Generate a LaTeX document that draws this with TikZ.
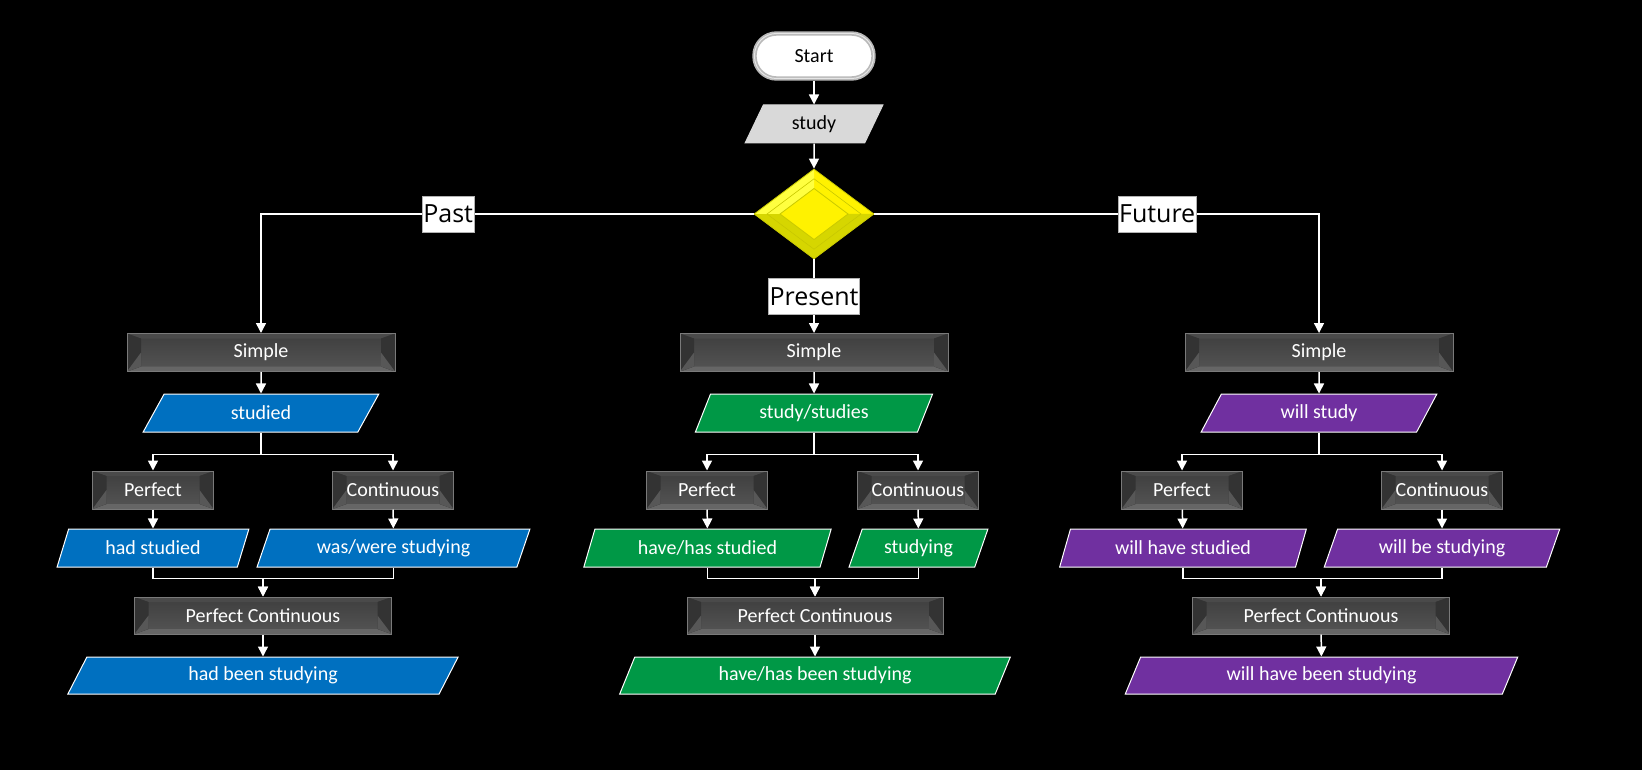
\documentclass[tikz,border=0pt]{standalone}
\usepackage{fontspec}
\setmainfont{Carlito}
\newfontfamily\lblfont{Open Sans}
\usetikzlibrary{shapes.geometric,arrows.meta,calc}

\definecolor{pblue}{HTML}{0070C0}
\definecolor{pgreen}{HTML}{009846}
\definecolor{ppurple}{HTML}{7030A0}
\definecolor{lgray}{HTML}{D9D9D9}
\definecolor{ylow}{HTML}{D6D600}
\definecolor{yedge}{HTML}{C8C800}
\definecolor{yhi}{HTML}{FFFF40}
\definecolor{bvbody}{HTML}{3E3E3E}
\definecolor{bvlow}{HTML}{555555}
\definecolor{bvside}{HTML}{333333}
\definecolor{bvbot}{HTML}{666666}
\definecolor{bvtop}{HTML}{4A4A4A}
\definecolor{bvedge}{HTML}{7A7A7A}

\begin{document}
\begin{tikzpicture}[x=0.5pt,y=-0.5pt,
  every node/.style={font=\fontsize{10}{12}\selectfont},
  arr/.style={draw=white, line width=0.75pt, -{Triangle[width=5pt,length=5pt]}},
  para/.style={trapezium, trapezium left angle=65, trapezium right angle=115,
    trapezium stretches=true, draw=white, line width=0.5pt, inner sep=0pt,
    minimum height=19pt, text=white},
  bev/.style={rectangle, draw=bvedge, line width=0.5pt, inner sep=0pt,
    minimum height=19pt, text=white,
    top color=bvbody, bottom color=bvlow,
    path picture={
      \fill[bvtop] (path picture bounding box.north west)
        -- ([xshift=7pt,yshift=-2.5pt]path picture bounding box.north west)
        -- ([xshift=-7pt,yshift=-2.5pt]path picture bounding box.north east)
        -- (path picture bounding box.north east) -- cycle;
      \fill[bvbot] (path picture bounding box.south west)
        -- ([xshift=7pt,yshift=2.5pt]path picture bounding box.south west)
        -- ([xshift=-7pt,yshift=2.5pt]path picture bounding box.south east)
        -- (path picture bounding box.south east) -- cycle;
      \fill[bvside] (path picture bounding box.north west)
        -- ([xshift=7pt,yshift=-2.5pt]path picture bounding box.north west)
        -- ([xshift=7pt,yshift=2.5pt]path picture bounding box.south west)
        -- (path picture bounding box.south west) -- cycle;
      \fill[bvside] (path picture bounding box.north east)
        -- ([xshift=-7pt,yshift=-2.5pt]path picture bounding box.north east)
        -- ([xshift=-7pt,yshift=2.5pt]path picture bounding box.south east)
        -- (path picture bounding box.south east) -- cycle;
      \fill[bvbot!85!black] (path picture bounding box.south west)
        -- ([xshift=7pt,yshift=2.5pt]path picture bounding box.south west)
        -- ([xshift=7pt]path picture bounding box.west) -- cycle;
      \fill[bvbot!85!black] (path picture bounding box.south east)
        -- ([xshift=-7pt,yshift=2.5pt]path picture bounding box.south east)
        -- ([xshift=-7pt]path picture bounding box.east) -- cycle;
    }},
  bevs/.style={bev, minimum width=60.5pt},
  startbox/.style={rectangle, rounded corners=11pt, minimum width=59.5pt,
    minimum height=22.5pt, fill=white, draw=gray!55, line width=2.2pt,
    text=black, inner sep=0pt,
    postaction={draw=gray!20, line width=0.5pt, rounded corners=9.5pt}},
  dia/.style={diamond, minimum width=60pt, minimum height=45pt, inner sep=0pt,
    fill=yellow, draw=yedge, line width=0.4pt,
    path picture={
      \fill[ylow]
        ([xshift=-30pt]path picture bounding box.center)
        -- ([yshift=-22.5pt]path picture bounding box.center)
        -- ([xshift=30pt]path picture bounding box.center)
        -- ([xshift=17pt]path picture bounding box.center)
        -- ([yshift=-12.75pt]path picture bounding box.center)
        -- ([xshift=-17pt]path picture bounding box.center) -- cycle;
      \fill[yhi]
        ([xshift=-30pt]path picture bounding box.center)
        -- ([yshift=22.5pt]path picture bounding box.center)
        -- ([yshift=12.75pt]path picture bounding box.center)
        -- ([xshift=-17pt]path picture bounding box.center) -- cycle;
      \draw[yedge, line width=0.3pt]
        ([xshift=-23.5pt]path picture bounding box.center)
        -- ([yshift=17.6pt]path picture bounding box.center)
        -- ([xshift=23.5pt]path picture bounding box.center)
        -- ([yshift=-17.6pt]path picture bounding box.center) -- cycle;
      \fill[yellow, draw=yedge, line width=0.4pt]
        ([xshift=-17pt]path picture bounding box.center)
        -- ([yshift=12.75pt]path picture bounding box.center)
        -- ([xshift=17pt]path picture bounding box.center)
        -- ([yshift=-12.75pt]path picture bounding box.center) -- cycle;
    }},
  lbl/.style={fill=white, draw=gray!60, line width=0.4pt, text=black,
    font=\lblfont\fontsize{12.5}{14}\selectfont, inner xsep=0.5pt,
    inner ysep=0pt, minimum height=18pt}
]
\fill[black] (0,0) rectangle (1642,770);
\useasboundingbox (0,0) rectangle (1642,770);

% top
\node[startbox] (start) at (814,56) {Start};
\node[para, fill=lgray, text=black, draw=lgray, minimum width=69pt] (in) at (814,124) {study};
\node[dia] (dec) at (814,214) {};

% Past
\node[bev, minimum width=134pt] (ls) at (261,352.5) {Simple};
\node[para, fill=pblue, minimum width=118pt] (lsf) at (261,413) {studied};
\node[bevs] (lp) at (153,490) {Perfect};
\node[bevs] (lc) at (393,490) {Continuous};
\node[para, fill=pblue, minimum width=96pt] (lpf) at (153,548) {had studied};
\node[para, fill=pblue, minimum width=136.5pt] (lcf) at (393.5,548) {was/were studying};
\node[bev, minimum width=128.5pt, minimum height=18.5pt] (lpc) at (263,615.5) {Perfect Continuous};
\node[para, fill=pblue, minimum width=196.5pt, minimum height=18.5pt] (lpcf) at (263,675.5) {had been studying};

% Present
\node[bev, minimum width=134pt] (ms) at (814,352.5) {Simple};
\node[para, fill=pgreen, minimum width=119pt] (msf) at (814,413) {study/studies};
\node[bevs] (mp) at (707,490) {Perfect};
\node[bevs] (mc) at (918,490) {Continuous};
\node[para, fill=pgreen, minimum width=124.5pt] (mpf) at (707.5,548) {have/has studied};
\node[para, fill=pgreen, minimum width=69.5pt] (mcf) at (918.5,548) {studying};
\node[bev, minimum width=128pt, minimum height=18.5pt] (mpc) at (815,615.5) {Perfect Continuous};
\node[para, fill=pgreen, minimum width=195.5pt, minimum height=18.5pt] (mpcf) at (815,675.5) {have/has been studying};

% Future
\node[bev, minimum width=134pt] (rs) at (1319,352.5) {Simple};
\node[para, fill=ppurple, minimum width=118pt] (rsf) at (1319,413) {will study};
\node[bevs] (rp) at (1182,490) {Perfect};
\node[bevs] (rc) at (1442,490) {Continuous};
\node[para, fill=ppurple, minimum width=123.5pt] (rpf) at (1183,548) {will have studied};
\node[para, fill=ppurple, minimum width=118pt] (rcf) at (1442,548) {will be studying};
\node[bev, minimum width=128.5pt, minimum height=18.5pt] (rpc) at (1321,615.5) {Perfect Continuous};
\node[para, fill=ppurple, minimum width=196.5pt, minimum height=18.5pt] (rpcf) at (1321.5,675.5) {will have been studying};

% connectors top
\draw[arr] (start) -- (in);
\draw[arr] (in) -- (dec);
\draw[arr] (dec.west) -| node[lbl, pos=0.31] {Past} (ls.north);
\draw[arr] (dec.east) -| node[lbl, pos=0.318] {Future} (rs.north);
\draw[arr] (dec.south) -- node[lbl] {Present} (ms.north);

% columns
\foreach \s/\f/\p/\c/\pf/\cf/\pc/\pcf in {ls/lsf/lp/lc/lpf/lcf/lpc/lpcf, ms/msf/mp/mc/mpf/mcf/mpc/mpcf, rs/rsf/rp/rc/rpf/rcf/rpc/rpcf}{
  \draw[arr] (\s) -- (\f);
  \draw[arr] (\f.south) -- ++(0,22) -| (\p.north);
  \draw[arr] (\f.south) -- ++(0,22) -| (\c.north);
  \draw[arr] (\p) -- (\pf);
  \draw[arr] (\c) -- (\cf);
  \draw[arr] (\pf.south) -- ++(0,11) -| (\pc.north);
  \draw[arr] (\cf.south) -- ++(0,11) -| (\pc.north);
  \draw[arr] (\pc) -- (\pcf);
}
\end{tikzpicture}
\end{document}
